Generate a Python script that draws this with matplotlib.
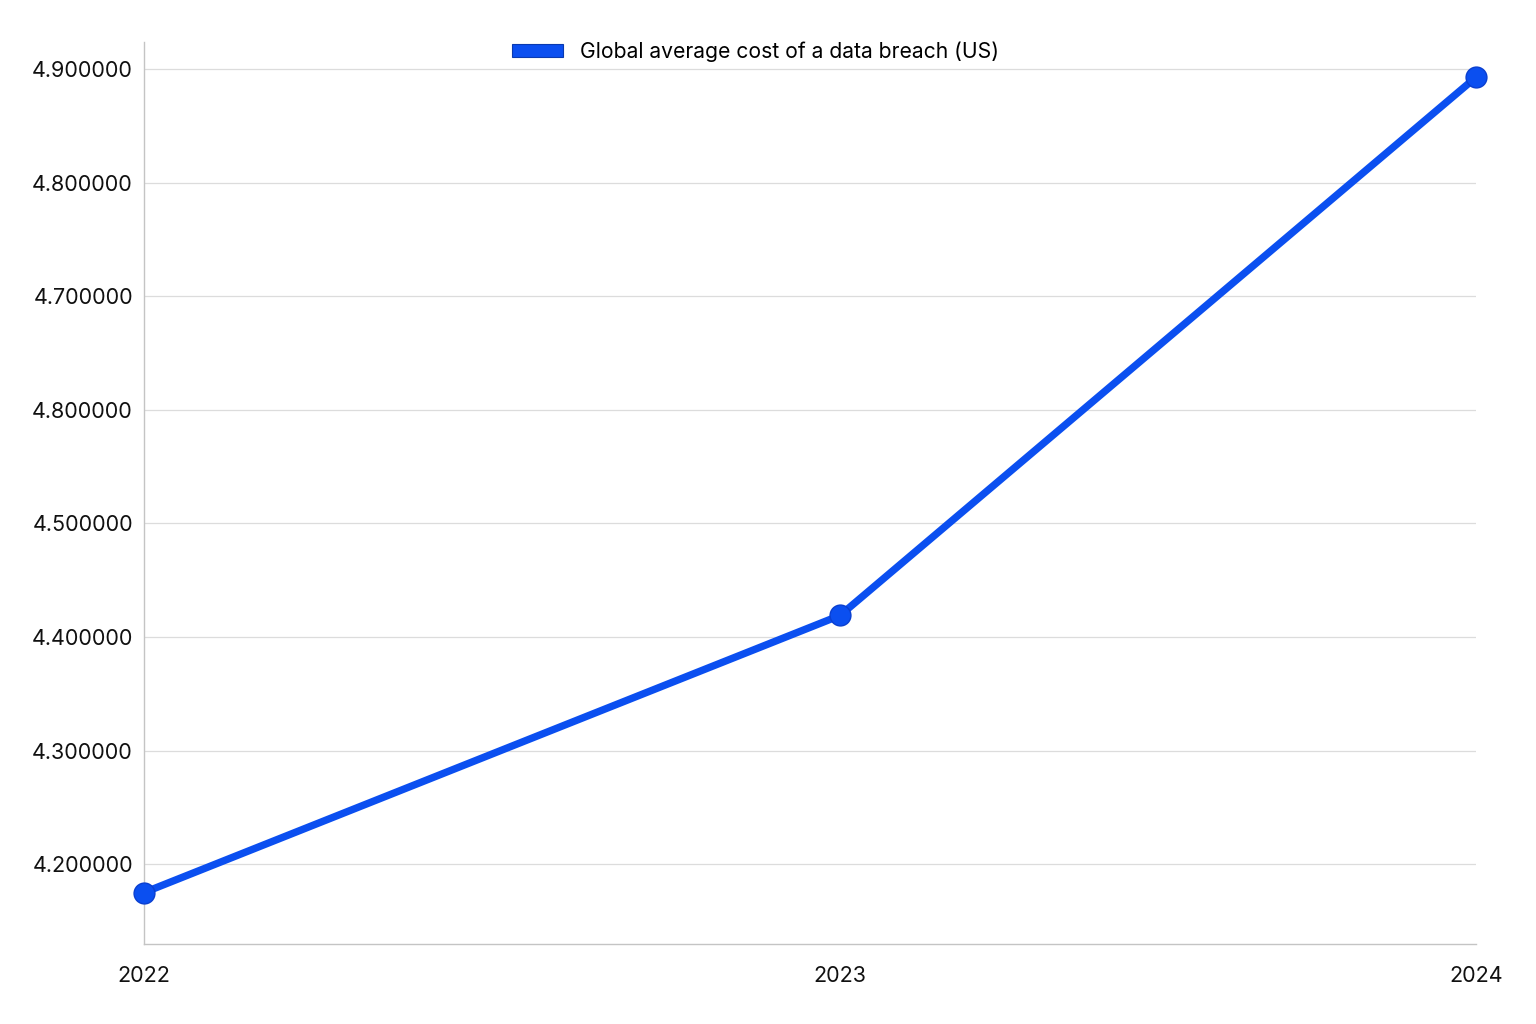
import matplotlib.pyplot as plt

plt.rcParams['font.family'] = ['Inter', 'DejaVu Sans']

years = ['2022', '2023', '2024']
year_pos = [0, 1.045, 2]
cost = [4.175, 4.419, 4.893]
tick_vals = [4.2, 4.3, 4.4, 4.5, 4.6, 4.7, 4.8, 4.9]
tick_labels = ['4.200000', '4.300000', '4.400000', '4.500000',
               '4.800000', '4.700000', '4.800000', '4.900000']
series_name = 'Global average cost of a data breach (US)'

blue = '#0b4ff0'

fig = plt.figure(figsize=(15.36, 10.24), dpi=100)
ax = fig.add_axes([0.09375, 0.078, 0.8672, 0.881])

ax.plot(year_pos, cost, color=blue, lw=5.3, marker='o', ms=15,
        mfc=blue, mec='#0a3fd0', mew=1, clip_on=False, zorder=3)

ax.set_xlim(0, 2)
ax.set_ylim(4.1296, 4.924)
ax.set_xticks(year_pos)
ax.set_xticklabels(years)
ax.set_yticks(tick_vals)
ax.set_yticklabels(tick_labels)
ax.tick_params(axis='both', length=0, labelsize=15.5, colors='#111111')
ax.tick_params(axis='x', pad=16)
ax.tick_params(axis='y', pad=8)

ax.grid(axis='y', color='#dcdcdc', lw=0.9)
ax.set_axisbelow(True)
for s in ['top', 'right']:
    ax.spines[s].set_visible(False)
for s in ['left', 'bottom']:
    ax.spines[s].set_color('#c4c4c4')
    ax.spines[s].set_linewidth(1)

h = plt.Rectangle((0, 0), 1, 1, facecolor=blue, edgecolor='#0a3ab0', lw=0.8)
fig.legend([h], [series_name], loc='upper center', bbox_to_anchor=(0.492, 0.978),
           frameon=False, fontsize=15.2, handlelength=2.4, handleheight=0.6)

fig.savefig('out.png', dpi=100, facecolor='white')
